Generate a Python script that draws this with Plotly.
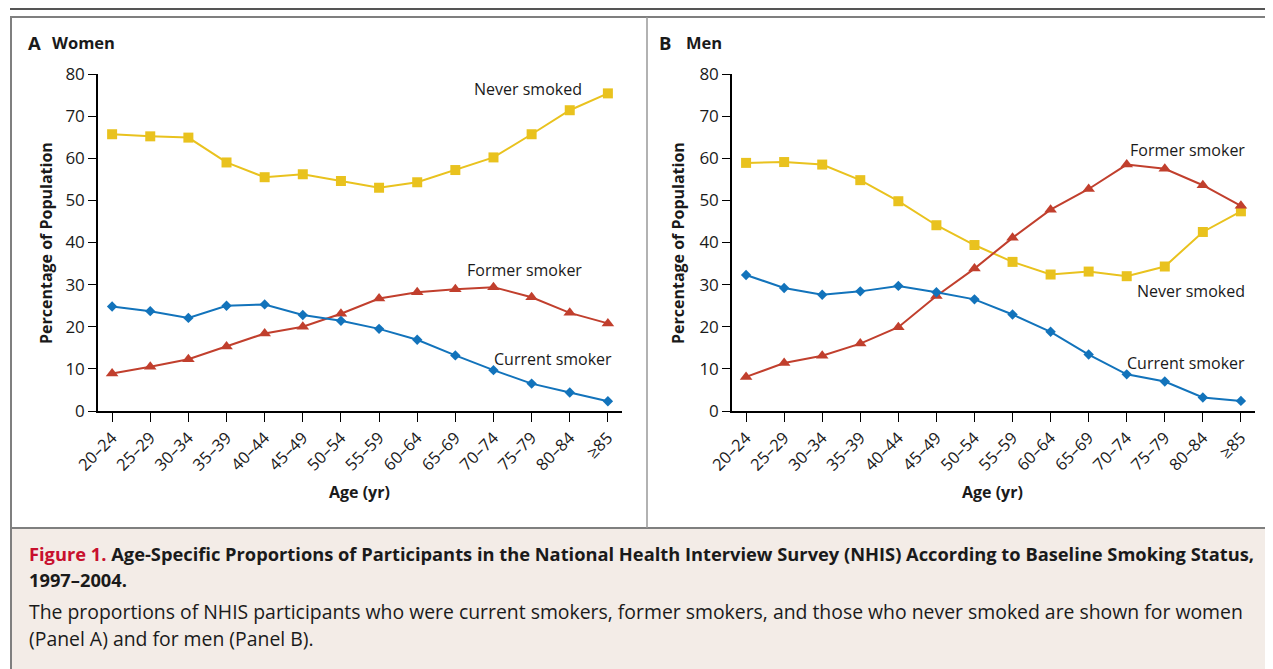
import plotly.graph_objects as go

# ---------------- data ----------------
age_groups = ["20–24", "25–29", "30–34", "35–39", "40–44", "45–49", "50–54",
              "55–59", "60–64", "65–69", "70–74", "75–79", "80–84", "≥85"]

women_never = [65.7, 65.2, 64.9, 59.0, 55.5, 56.2, 54.6, 53.0, 54.3, 57.2, 60.2, 65.7, 71.4, 75.4]
women_former = [8.9, 10.5, 12.3, 15.3, 18.4, 20.0, 23.1, 26.7, 28.2, 28.9, 29.4, 27.0, 23.3, 20.8]
women_current = [24.8, 23.7, 22.1, 25.0, 25.3, 22.8, 21.4, 19.5, 16.9, 13.2, 9.7, 6.5, 4.4, 2.3]

men_never = [58.9, 59.1, 58.5, 54.8, 49.8, 44.1, 39.4, 35.4, 32.4, 33.1, 32.0, 34.3, 42.5, 47.4]
men_former = [8.1, 11.4, 13.1, 16.0, 19.9, 27.3, 33.8, 41.1, 47.8, 52.7, 58.5, 57.5, 53.6, 48.7]
men_current = [32.3, 29.2, 27.6, 28.4, 29.7, 28.2, 26.5, 22.9, 18.8, 13.4, 8.7, 7.0, 3.2, 2.4]

y_ticks = [0, 10, 20, 30, 40, 50, 60, 70, 80]

# ---------------- style ----------------
OFF = 8                      # page body margin of the browser
W, H = 1273 - OFF, 669 - OFF
FONT = "Open Sans"
YELLOW = "#E9C21E"
RED = "#C13F2D"
BLUE = "#1273BB"
TXT = "#1a1a1a"


def X(px):
    return (px - OFF) / W


def Y(py):
    return 1 - (py - OFF) / H


fig = go.Figure()

series = [
    ("x", "y", women_never, YELLOW, "square", 10),
    ("x", "y", women_former, RED, "triangle-up", 11),
    ("x", "y", women_current, BLUE, "diamond", 8),
    ("x2", "y2", men_never, YELLOW, "square", 10),
    ("x2", "y2", men_former, RED, "triangle-up", 11),
    ("x2", "y2", men_current, BLUE, "diamond", 8),
]
for xa, ya, vals, col, sym, sz in series:
    fig.add_trace(go.Scatter(
        x=age_groups, y=vals, xaxis=xa, yaxis=ya, mode="lines+markers",
        line=dict(color=col, width=2),
        marker=dict(color=col, symbol=sym, size=sz, line=dict(width=0)),
        cliponaxis=False, showlegend=False, hoverinfo="skip"))

axis_common_x = dict(
    type="category", range=[-0.37, 13.37], showline=True, linecolor="black",
    linewidth=1.5, ticks="outside", ticklen=9, tickwidth=1.2, tickcolor="black",
    tickangle=-45, tickfont=dict(family=FONT, size=16.5, color=TXT),
    showgrid=False, zeroline=False, fixedrange=True, automargin=False)
axis_common_y = dict(
    range=[0, 80], tickvals=y_ticks, showline=True, linecolor="black",
    linewidth=1.5, ticks="outside", ticklen=8, tickwidth=1.2, tickcolor="black",
    tickfont=dict(family=FONT, size=17, color=TXT),
    showgrid=False, zeroline=False, fixedrange=True, automargin=False)

fig.update_layout(
    width=W, height=H, autosize=False,
    margin=dict(l=0, r=0, t=0, b=0, pad=0, autoexpand=False),
    paper_bgcolor="white", plot_bgcolor="rgba(0,0,0,0)", showlegend=False,
    xaxis=dict(axis_common_x, domain=[X(98), X(622)], anchor="y"),
    yaxis=dict(axis_common_y, domain=[Y(411), Y(74)], anchor="x"),
    xaxis2=dict(axis_common_x, domain=[X(732), X(1255)], anchor="y2"),
    yaxis2=dict(axis_common_y, domain=[Y(411), Y(74)], anchor="x2"),
)

# frame shapes
shapes = [
    dict(type="line", xref="paper", yref="paper", x0=X(10), x1=1, y0=Y(9), y1=Y(9),
         line=dict(color="#555555", width=2.2)),
    dict(type="rect", xref="paper", yref="paper", x0=X(11), x1=X(1272), y0=Y(528), y1=Y(17),
         line=dict(color="#7f7f7f", width=2), layer="below"),
    dict(type="line", xref="paper", yref="paper", x0=X(647), x1=X(647), y0=Y(528), y1=Y(17),
         line=dict(color="#999999", width=1.5)),
    dict(type="rect", xref="paper", yref="paper", x0=X(11), x1=X(1274), y0=Y(672), y1=Y(528),
         fillcolor="#F3ECE7", line=dict(color="#7f7f7f", width=2), layer="below"),
]
fig.update_layout(shapes=shapes)

ann = []


def add_text(text, px, py, size=16, xanchor="left", yanchor="middle", angle=0, color=TXT):
    ann.append(dict(text=text, x=X(px), y=Y(py), xref="paper", yref="paper",
                    xanchor=xanchor, yanchor=yanchor, showarrow=False, textangle=angle,
                    font=dict(family=FONT, size=size, color=color)))


# panel titles
add_text("<b>A</b>", 26, 42, size=18.5)
add_text("<b>Women</b>", 50, 42, size=16.5)
add_text("<b>B</b>", 657, 42, size=18.5)
add_text("<b>Men</b>", 684, 42, size=16.5)

# axis titles
add_text("<b>Percentage of Population</b>", 46, 243, size=16, xanchor="center", angle=-90)
add_text("<b>Percentage of Population</b>", 678, 243, size=16, xanchor="center", angle=-90)
add_text("<b>Age (yr)</b>", 359, 492, size=16, xanchor="center")
add_text("<b>Age (yr)</b>", 993, 492, size=16, xanchor="center")

# series labels
add_text("Never smoked", 584, 89, xanchor="right")
add_text("Former smoker", 584, 270, xanchor="right")
add_text("Current smoker", 614, 359, xanchor="right")
add_text("Former smoker", 1247, 150, xanchor="right")
add_text("Never smoked", 1247, 291, xanchor="right")
add_text("Current smoker", 1247, 363, xanchor="right")

# caption
add_text("<span style='color:#C8102E'><b>Figure 1.</b></span> <b>Age-Specific Proportions of Participants "
         "in the National Health Interview Survey (NHIS) According to Baseline Smoking Status,</b>",
         27, 553, size=18.3)
add_text("<b>1997–2004.</b>", 27, 579, size=18.3)
add_text("The proportions of NHIS participants who were current smokers, former smokers, and those "
         "who never smoked are shown for women", 27, 611, size=19.4)
add_text("(Panel A) and for men (Panel B).", 27, 638, size=19.4)

fig.update_layout(annotations=ann)

fig.write_html("out.html")
